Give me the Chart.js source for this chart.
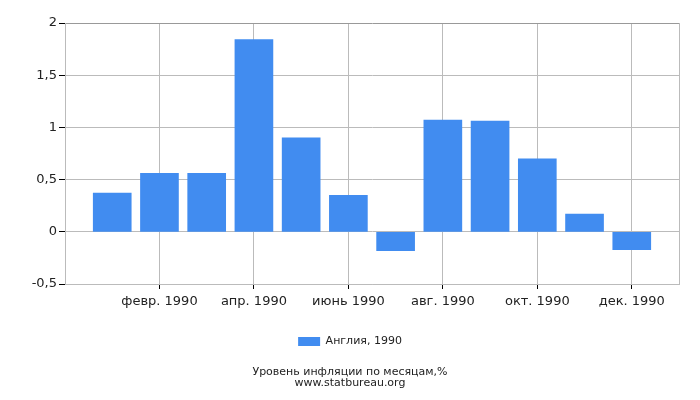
<!DOCTYPE html>
<html>
<head>
<meta charset="utf-8">
<script src="https://cdn.jsdelivr.net/npm/chart.js@4"></script>
<style>
  html, body { margin: 0; padding: 0; background: #fff; }
  #wrap { width: 700px; height: 400px; }
</style>
</head>
<body>
<div id="wrap"><canvas id="mycanvas" width="700" height="400"></canvas></div>
<script>
var months = ['янв. 1990', 'февр. 1990', 'март 1990', 'апр. 1990', 'май 1990', 'июнь 1990',
              'июль 1990', 'авг. 1990', 'сент. 1990', 'окт. 1990', 'нояб. 1990', 'дек. 1990'];
var values = [0.37, 0.56, 0.56, 1.84, 0.90, 0.35, -0.18, 1.07, 1.06, 0.70, 0.17, -0.17];
var yTicks = [-0.5, 0, 0.5, 1, 1.5, 2];
var seriesName = 'Англия, 1990';
var titleLines = ['Уровень инфляции по месяцам,%', 'www.statbureau.org'];

// empty slot before January and after December, like the original axis
var labels = [''].concat(months).concat(['']);
var data = [null].concat(values).concat([null]);

function shownTick(i) {
    return i >= 2 && i <= 12 && i % 2 == 0;
}

Chart.defaults.font.family = 'DejaVu Sans';
Chart.defaults.color = '#222';

var ctx = document.getElementById('mycanvas');
var barGraph = new Chart(ctx, {
    type: 'bar',
    data: {
        labels: labels,
        datasets: [{
            label: seriesName,
            data: data,
            backgroundColor: '#418cf0',
            borderWidth: 0,
            barThickness: 38
        }]
    },
    options: {
        responsive: false,
        animation: false,
        layout: { padding: { top: 23, right: 0, left: 0, bottom: 0 } },
        scales: {
            x: {
                offset: false,
                grid: {
                    offset: false,
                    color: function(c) { return (shownTick(c.index) || c.index == 13) ? '#bbb' : 'rgba(0,0,0,0)'; },
                    tickColor: function(c) { return shownTick(c.index) ? '#000' : 'rgba(0,0,0,0)'; },
                    tickLength: 5,
                    drawOnChartArea: true
                },
                border: { color: '#bbb' },
                ticks: {
                    autoSkip: false,
                    maxRotation: 0,
                    padding: 5,
                    font: { size: 13 },
                    callback: function(v, i) { return shownTick(i) ? labels[i] : ''; }
                },
                afterFit: function(scale) { scale.height = 42; }
            },
            y: {
                min: yTicks[0],
                max: yTicks[yTicks.length - 1],
                afterBuildTicks: function(scale) {
                    scale.ticks = yTicks.map(function(v) { return { value: v }; });
                },
                grid: {
                    color: function(c) { return c.tick && c.tick.value == 2 ? '#999' : '#bbb'; },
                    tickColor: '#000',
                    tickLength: 6
                },
                border: { color: '#bbb' },
                ticks: {
                    padding: 2,
                    font: { size: 13 },
                    callback: function(v) { return String(v).replace('.', ','); }
                },
                afterFit: function(scale) { scale.width = 65; }
            },
            // empty right margin, so legend and title stay centred on the page
            margin: {
                position: 'right',
                grid: { display: false },
                border: { display: false },
                ticks: { display: false },
                afterFit: function(scale) { scale.width = 21; }
            }
        },
        plugins: {
            legend: {
                position: 'bottom',
                labels: { boxWidth: 22, boxHeight: 9, font: { size: 11 }, padding: 10 }
            },
            title: {
                display: true,
                position: 'bottom',
                text: titleLines,
                font: { size: 11, weight: 'normal', lineHeight: 1.0 },
                padding: { top: 10, bottom: 11 }
            },
            tooltip: { enabled: false }
        }
    }
});
</script>
</body>
</html>
